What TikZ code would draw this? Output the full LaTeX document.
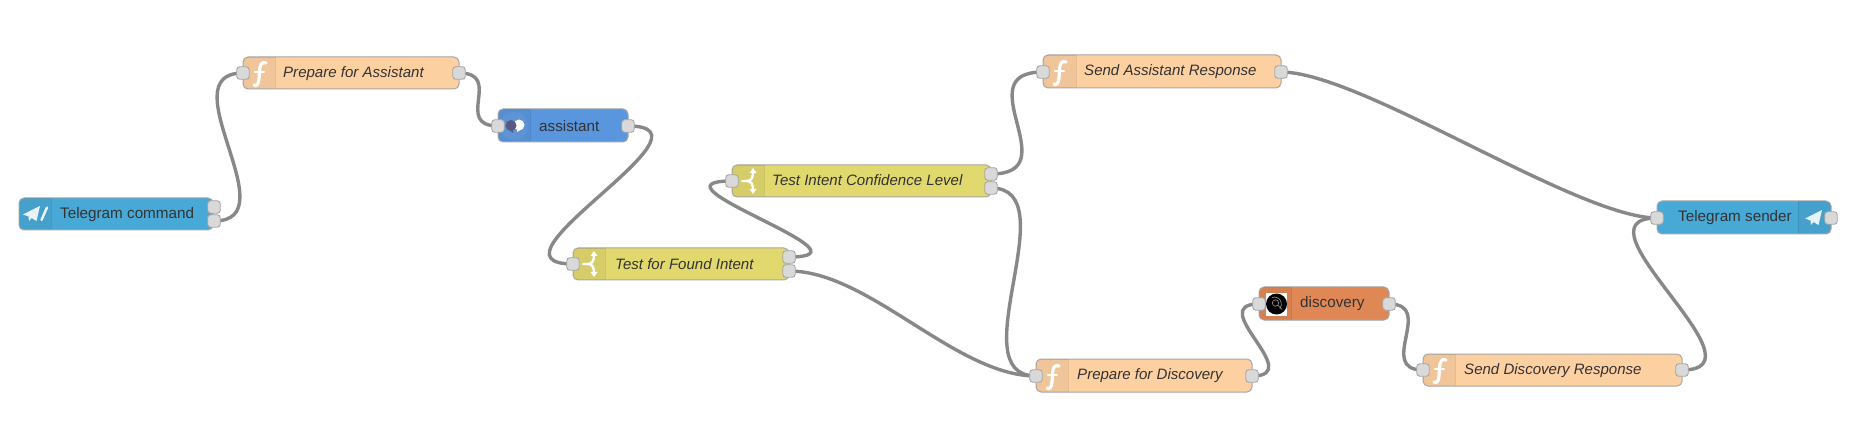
\documentclass[tikz,border=0pt]{standalone}
\usepackage{fontspec}
\setmainfont{Liberation Sans}
\pgfdeclarelayer{paper}
\pgfdeclarelayer{links}
\pgfsetlayers{paper,links,main}
\definecolor{fnfill}{HTML}{FDD0A2}
\definecolor{tgfill}{HTML}{49A9D6}
\definecolor{asfill}{HTML}{5A96DE}
\definecolor{swfill}{HTML}{E2D96E}
\definecolor{dsfill}{HTML}{E08756}
\definecolor{wire}{HTML}{888888}
\definecolor{portfill}{HTML}{D9D9D9}
\tikzset{
  x=1pt,y=-1pt,
  box/.style={draw=#1,line width=1pt,rounded corners=5pt,inner sep=0pt,outer sep=0pt},
  box/.default={black!35},
  port/.style={draw=black!35,line width=0.9pt,fill=portfill,rounded corners=3pt,minimum size=12.5pt,inner sep=0pt,outer sep=0pt},
  wirelink/.style={draw=wire,line width=3.4pt},
  lab/.style={anchor=west,inner sep=0pt,text=black!80,font=\fontsize{15.25}{18}\selectfont},
  ilab/.style={lab,font=\fontsize{15.05}{18}\selectfont\itshape},
  glyph/.style={draw=white,line width=3.2pt,line cap=round},
  glyphthin/.style={draw=white,line width=2.4pt,line cap=round,line join=round},
}
% name, colour, x0, x1, y0, y1, shade x0, shade x1
\newcommand{\flownode}[8]{%
  \fill[#2,rounded corners=5pt] (#3,#5) rectangle (#4,#6);
  \begin{scope}
    \clip[rounded corners=5pt] (#3,#5) rectangle (#4,#6);
    \fill[black,opacity=.05] (#7,#5) rectangle (#8,#6);
    \draw[black,opacity=.09,line width=.8pt] (#7,#5) rectangle (#8,#6);
  \end{scope}
  \pgfmathsetmacro{\flowcx}{(#3+#4)/2}
  \pgfmathsetmacro{\flowcy}{(#5+#6)/2}
  \pgfmathsetmacro{\flowwd}{#4-#3}
  \pgfmathsetmacro{\flowht}{#6-#5}
  \node[box,minimum width=\flowwd pt,minimum height=\flowht pt] (#1) at (\flowcx,\flowcy) {};
}
\newcommand{\fnglyph}[2]{%
  \begin{scope}[shift={(#1,#2)}]
    \draw[glyph] (23,-10) .. controls (19,-12) and (16.5,-8) .. (16.5,-2) -- (16,6) .. controls (15.5,12) and (13,13.5) .. (11,12);
    \draw[glyph,line width=2.2pt] (12,-1) -- (21,-1);
  \end{scope}}
\newcommand{\swglyph}[2]{%
  \begin{scope}[shift={(#1,#2)}]
    \draw[glyphthin] (10,0) -- (15,0) .. controls (19,0) and (21,-3) .. (21,-9);
    \draw[glyphthin] (15,0) .. controls (19,0) and (21,3) .. (21,9);
    \fill[white] (21,-13) -- (17.5,-8) -- (24.5,-8) -- cycle;
    \fill[white] (21,13) -- (17.5,8) -- (24.5,8) -- cycle;
  \end{scope}}
\newcommand{\planeglyph}[2]{%
  \begin{scope}[shift={(#1,#2)}]
    \fill[white,opacity=.88] (0,8.5) -- (17,0) -- (13.5,15) -- (8.5,12) -- (6,15) -- (5.5,10.5) -- cycle;
  \end{scope}}
\begin{document}
\begin{tikzpicture}
\useasboundingbox (0,0) rectangle (1860,438);
\begin{pgfonlayer}{paper}
  \fill[white] (0,0) rectangle (1860,438);
\end{pgfonlayer}

% nodes
\flownode{tcmd}{tgfill}{19}{213}{198}{230}{19}{51}
\flownode{pfa}{fnfill}{243}{459}{57}{89}{243}{275}
\flownode{asst}{asfill}{498}{628}{109}{142}{498}{530}
\flownode{ticl}{swfill}{732}{991}{165}{197}{732}{764}
\flownode{tfi}{swfill}{573}{789}{248}{280}{573}{605}
\flownode{sar}{fnfill}{1043}{1281}{55}{88}{1043}{1076}
\flownode{pfd}{fnfill}{1036}{1252}{359}{392}{1036}{1068}
\flownode{disc}{dsfill}{1259}{1389}{287}{320}{1259}{1291}
\flownode{sdr}{fnfill}{1423}{1682}{354}{386}{1423}{1455}
\flownode{tsnd}{tgfill}{1657}{1831}{201}{234}{1798}{1831}

% labels
\node[lab] (tcmd-l) at (60,214.3) {Telegram command};
\node[ilab] (pfa-l) at (283,73.5) {Prepare for Assistant};
\node[lab] (asst-l) at (539,125.6) {assistant};
\node[ilab] (ticl-l) at (772,180.3) {Test Intent Confidence Level};
\node[ilab] (tfi-l) at (615,264) {Test for Found Intent};
\node[ilab] (sar-l) at (1084,72) {Send Assistant Response};
\node[ilab] (pfd-l) at (1077,376) {Prepare for Discovery};
\node[lab] (disc-l) at (1300,304) {discovery};
\node[ilab] (sdr-l) at (1464,370.5) {Send Discovery Response};
\node[lab] (tsnd-l) at (1678,217.5) {Telegram sender};

% icons
\planeglyph{23}{206}
\draw[glyph,line width=2.4pt,opacity=.9] (47,207.5) -- (41.5,220);
\fnglyph{243}{73}
\fnglyph{1043}{72}
\fnglyph{1036}{376}
\fnglyph{1423}{370}
\swglyph{732}{181}
\swglyph{573}{264}
\planeglyph{1805}{210}
\fill[white,opacity=.06] (514,126) circle (14);
\fill[white] (519,125) circle (5.5);
\fill[white] (522,129) -- (517,132) -- (517,129) -- cycle;
\fill[blue!25!black!65!white] (511,125.5) circle (5.5);
\fill[blue!25!black!65!white] (508,129) -- (513,133) -- (513,129) -- cycle;
\fill[white] (1266,293) rectangle (1287,316);
\fill[black] (1276.5,304) circle (10.5);
\draw[black!45,line width=.7pt] (1275.5,303) circle (3.2) (1278,305.5) -- (1282,309.5) (1272,297.5) arc (250:400:7);

% ports
\node[port] (tcmd-o1) at (214,207) {};
\node[port] (tcmd-o2) at (214,221) {};
\node[port] (pfa-i) at (243,73) {};
\node[port] (pfa-o) at (459,73) {};
\node[port] (asst-i) at (498,126) {};
\node[port] (asst-o) at (628,126) {};
\node[port] (tfi-i) at (573,264) {};
\node[port] (tfi-o1) at (789,257) {};
\node[port] (tfi-o2) at (789,271) {};
\node[port] (ticl-i) at (732,181) {};
\node[port] (ticl-o1) at (991,174) {};
\node[port] (ticl-o2) at (991,188) {};
\node[port] (sar-i) at (1043,72) {};
\node[port] (sar-o) at (1281,72) {};
\node[port] (pfd-i) at (1036,376) {};
\node[port] (pfd-o) at (1252,376) {};
\node[port] (disc-i) at (1259,304) {};
\node[port] (disc-o) at (1389,304) {};
\node[port] (sdr-i) at (1423,370) {};
\node[port] (sdr-o) at (1682,370) {};
\node[port] (tsnd-i) at (1657,218) {};
\node[port] (tsnd-o) at (1831,218) {};

% links
\begin{pgfonlayer}{links}
\draw[wirelink] (tcmd-o2.center) .. controls +(76,0) and +(-76,0) .. (pfa-i.center);
\draw[wirelink] (pfa-o.center) .. controls +(45,0) and +(-45,0) .. (asst-i.center);
\draw[wirelink] (asst-o.center) .. controls +(100,0) and +(-100,0) .. (tfi-i.center);
\draw[wirelink] (tfi-o1.center) .. controls +(94,0) and +(-94,0) .. (ticl-i.center);
\draw[wirelink] (tfi-o2.center) .. controls +(80,0) and +(-80,0) .. (pfd-i.center);
\draw[wirelink] (ticl-o1.center) .. controls +(78,0) and +(-78,0) .. (sar-i.center);
\draw[wirelink] (ticl-o2.center) .. controls +(78,0) and +(-78,0) .. (pfd-i.center);
\draw[wirelink] (pfd-o.center) .. controls +(55,0) and +(-55,0) .. (disc-i.center);
\draw[wirelink] (disc-o.center) .. controls +(47,0) and +(-47,0) .. (sdr-i.center);
\draw[wirelink] (sdr-o.center) .. controls +(90,0) and +(-90,0) .. (tsnd-i.center);
\draw[wirelink] (sar-o.center) .. controls +(80,0) and +(-80,0) .. (tsnd-i.center);
\end{pgfonlayer}
\end{tikzpicture}
\end{document}
